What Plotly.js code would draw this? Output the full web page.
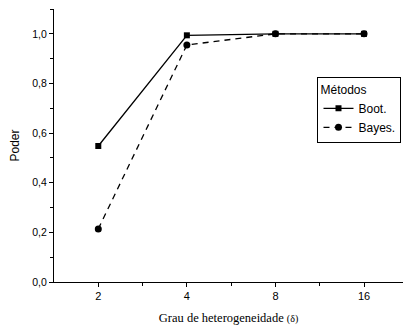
<!DOCTYPE html>
<html>
<head>
<meta charset="utf-8">
<script src="https://cdn.plot.ly/plotly-3.0.1.min.js"></script>
<style>
  html, body { margin: 0; padding: 0; background: #fff; }
  #chart { width: 403px; height: 326px; }
</style>
</head>
<body>
<div id="chart"></div>
<script>
// Heterogeneity levels (delta) on the x axis
const categories = ['2', '4', '8', '16'];
// Power of each method
const bootValues = [0.548, 0.994, 1.0, 1.0];
const bayesValues = [0.214, 0.955, 1.0, 1.0];
// Y tick labels
const yTickValues = [0, 0.2, 0.4, 0.6, 0.8, 1.0];
const yTickLabels = ['0,0', '0,2', '0,4', '0,6', '0,8', '1,0'];

const xIndex = categories.map((_, i) => i);

const traces = [
  {
    x: xIndex, y: bootValues, name: 'Boot.',
    mode: 'lines+markers',
    line: { color: '#000', width: 1.3, dash: 'solid' },
    marker: { symbol: 'square', size: 6, color: '#000' }
  },
  {
    x: xIndex, y: bayesValues, name: 'Bayes.',
    mode: 'lines+markers',
    line: { color: '#000', width: 1.3, dash: '6px,5px' },
    marker: { symbol: 'circle', size: 7, color: '#000' }
  }
];

const layout = {
  width: 403, height: 326,
  margin: { l: 54, r: 0, t: 9, b: 44 },
  paper_bgcolor: '#fff', plot_bgcolor: '#fff',
  font: { family: 'Liberation Sans, Arial, sans-serif', size: 11, color: '#000' },
  showlegend: true,
  legend: {
    title: { text: 'Métodos', font: { size: 12 } },
    x: 0.755, y: 0.75, xanchor: 'left', yanchor: 'top',
    bordercolor: '#000', borderwidth: 1, bgcolor: '#fff',
    font: { size: 12 }, tracegroupgap: 0, itemwidth: 30
  },
  xaxis: {
    range: [-0.5, 3.44],
    tickvals: xIndex, ticktext: categories,
    ticks: 'outside', ticklen: 4, tickwidth: 1, tickcolor: '#000',
    minor: { tickvals: [0.5, 1.5, 2.5], ticks: 'outside', ticklen: 3, tickcolor: '#000', tickwidth: 1 },
    showline: true, linecolor: '#000', linewidth: 1,
    showgrid: false, zeroline: false,
    tickfont: { size: 11 },
    title: {
      text: 'Grau de heterogeneidade <span style="font-size:10px">(δ)</span>',
      font: { family: 'Liberation Serif, Times New Roman, serif', size: 12.5 },
      standoff: 12
    }
  },
  yaxis: {
    range: [0, 1.1],
    tickvals: yTickValues, ticktext: yTickLabels,
    ticks: 'outside', ticklen: 4, tickwidth: 1, tickcolor: '#000',
    minor: { tickvals: [0.1, 0.3, 0.5, 0.7, 0.9, 1.1], ticks: 'outside', ticklen: 3, tickcolor: '#000', tickwidth: 1 },
    showline: true, linecolor: '#000', linewidth: 1,
    showgrid: false, zeroline: false,
    tickfont: { size: 10.5 },
    title: { text: 'Poder', font: { size: 12 }, standoff: 10 }
  }
};

Plotly.newPlot('chart', traces, layout, { displayModeBar: false, staticPlot: true });
</script>
</body>
</html>
